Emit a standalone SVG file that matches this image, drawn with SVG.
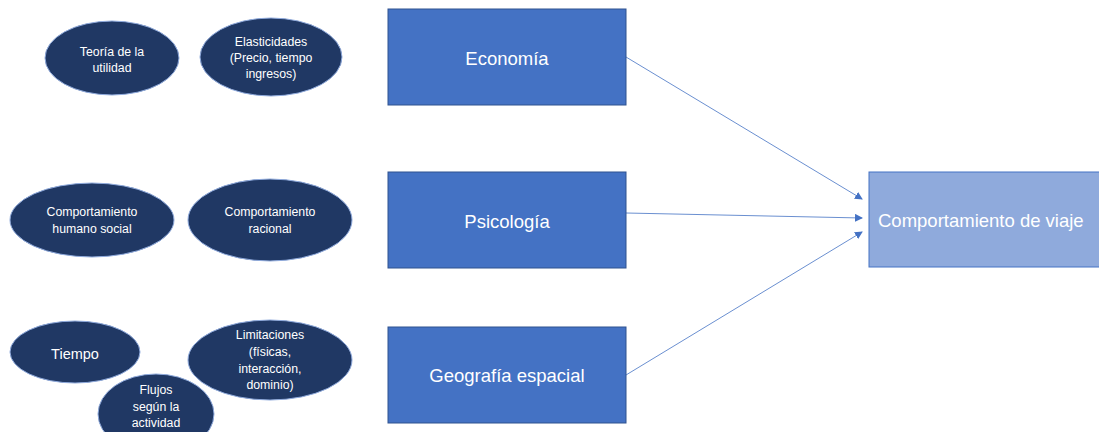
<svg xmlns="http://www.w3.org/2000/svg" width="1099" height="432" viewBox="0 0 1099 432">
<defs>
<style>
.ell{fill:#203864;stroke:#8FAADC;stroke-width:1}
.box{fill:#4472C4;stroke:#2F528F;stroke-width:1}
.tgt{fill:#8FAADC;stroke:#4472C4;stroke-width:1}
.st{font-family:"Liberation Sans",Arial,sans-serif;font-size:12.3px;fill:#FFFFFF;text-anchor:middle}
.bt{font-family:"Liberation Sans",Arial,sans-serif;font-size:18.5px;fill:#FFFFFF;text-anchor:middle}
.con{stroke:#4472C4;stroke-width:0.8;fill:none;marker-end:url(#ah)}
</style>
<marker id="ah" markerWidth="8" markerHeight="8" refX="7" refY="4" orient="auto" markerUnits="userSpaceOnUse">
<path d="M0,0 L8,4 L0,8 Z" fill="#4472C4"/>
</marker>
</defs>
<rect width="1099" height="432" fill="#FFFFFF"/>
<g id="connectors">
<line class="con" x1="626" y1="57" x2="862" y2="199"/>
<line class="con" x1="626" y1="213" x2="862" y2="218"/>
<line class="con" x1="626" y1="375" x2="862" y2="232"/>
</g>
<g id="n-teoria"><ellipse class="ell" cx="112" cy="58" rx="67" ry="37"/><text class="st" x="112" y="56">Teoría de la</text><text class="st" x="112" y="72">utilidad</text></g>
<g id="n-elasticidades"><ellipse class="ell" cx="271" cy="57" rx="71" ry="39"/><text class="st" x="271" y="46">Elasticidades</text><text class="st" x="271" y="62">(Precio, tiempo</text><text class="st" x="271" y="78">ingresos)</text></g>
<g id="n-economia"><rect class="box" x="388" y="9" width="238" height="96"/><text class="bt" x="507" y="65">Economía</text></g>
<g id="n-humano"><ellipse class="ell" cx="92" cy="220" rx="82" ry="37"/><text class="st" x="92" y="216">Comportamiento</text><text class="st" x="92" y="233">humano social</text></g>
<g id="n-racional"><ellipse class="ell" cx="270" cy="220" rx="82" ry="41"/><text class="st" x="270" y="216">Comportamiento</text><text class="st" x="270" y="233">racional</text></g>
<g id="n-psicologia"><rect class="box" x="388" y="172" width="238" height="96"/><text class="bt" x="507" y="228">Psicología</text></g>
<g id="n-tiempo"><ellipse class="ell" cx="75" cy="352" rx="65" ry="31"/><text class="st" x="75" y="359" style="font-size:14.5px">Tiempo</text></g>
<g id="n-limitaciones"><ellipse class="ell" cx="270" cy="360" rx="82" ry="40"/><text class="st" x="270" y="339">Limitaciones</text><text class="st" x="270" y="356">(físicas,</text><text class="st" x="270" y="373">interacción,</text><text class="st" x="270" y="389">dominio)</text></g>
<g id="n-flujos"><ellipse class="ell" cx="156" cy="414" rx="58" ry="40"/><text class="st" x="156" y="394">Flujos</text><text class="st" x="156" y="411">según la</text><text class="st" x="156" y="427">actividad</text></g>
<g id="n-geografia"><rect class="box" x="388" y="327" width="238" height="96"/><text class="bt" x="507" y="382">Geografía espacial</text></g>
<g id="n-comportamiento"><rect class="tgt" x="869" y="172" width="240" height="95"/><text class="bt" x="878" y="227" style="text-anchor:start">Comportamiento de viaje</text></g>
</svg>
